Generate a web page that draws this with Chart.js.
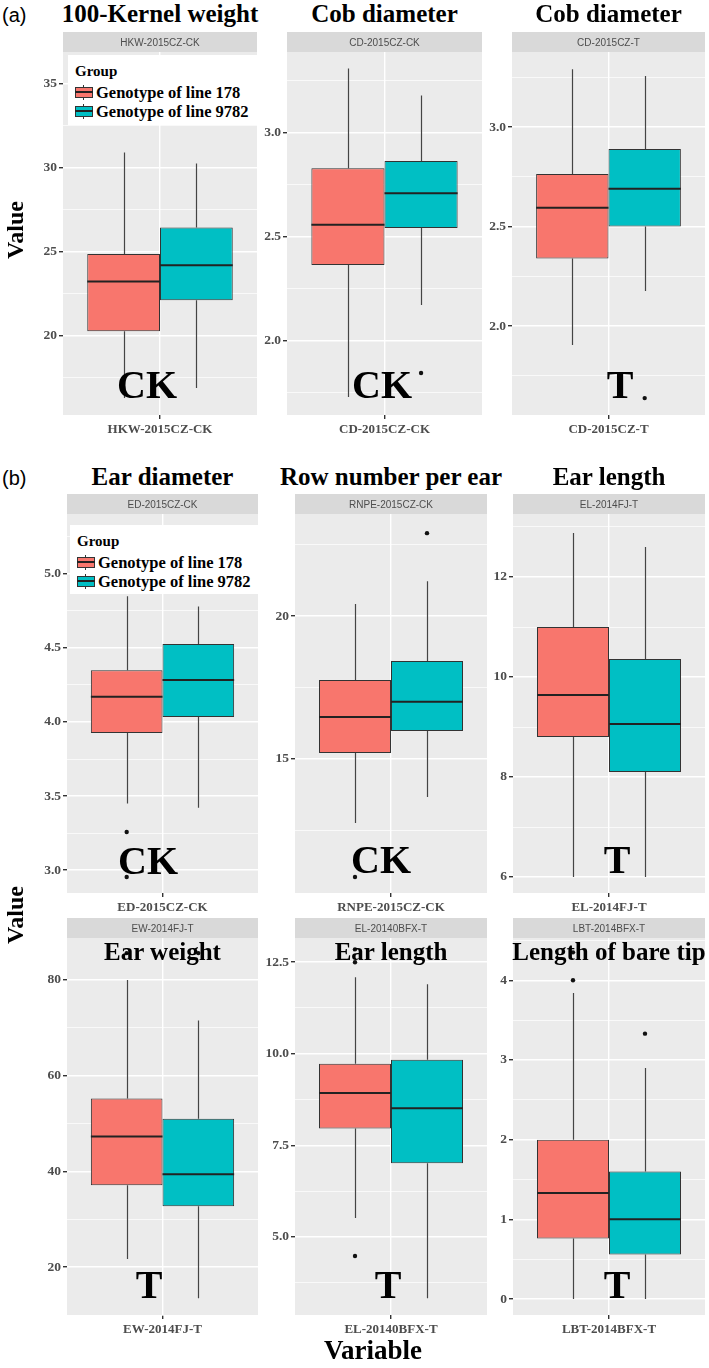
<!DOCTYPE html>
<html>
<head>
<meta charset="utf-8">
<script src="https://cdn.jsdelivr.net/npm/chart.js@4.4.1/dist/chart.umd.min.js"></script>
<style>
  body { margin: 0; background: #fff; }
  #fig { position: relative; width: 709px; height: 1368px; overflow: hidden; font-family: "Liberation Serif", serif; }
  .pan { position: absolute; }
  .txt { position: absolute; white-space: nowrap; line-height: 1; font-weight: bold; color: #000; text-align: center; }
  .lab { position: absolute; white-space: nowrap; font-family: "Liberation Sans", sans-serif; font-size: 20px; line-height: 1; }
  .legend { position: absolute; background: #fff; }
  .legend .ttl { position: absolute; left: 7px; top: 9px; font-size: 15px; font-weight: bold; line-height: 1; }
  .legend .row { position: absolute; left: 7px; height: 18px; font-size: 16.5px; font-weight: bold; line-height: 18px; white-space: nowrap; }
  .key { display: inline-block; position: relative; width: 18px; height: 15px; vertical-align: -2px; margin-right: 3px; }
  .key .wh { position: absolute; left: 8px; top: 0; width: 1px; height: 15px; background: #333; }
  .key .bx { position: absolute; left: 0; top: 2px; width: 16px; height: 9px; border: 1px solid #333; }
  .key .md { position: absolute; left: 0; top: 6px; width: 18px; height: 2px; background: #222; }
</style>
</head>
<body>
<div id="fig"></div>
<script>
const groups = ['Genotype of line 178', 'Genotype of line 9782'];
const groupColors = ['#F8766D', '#00BFC4'];

const variables = ['HKW-2015CZ-CK', 'CD-2015CZ-CK', 'CD-2015CZ-T',
                   'ED-2015CZ-CK', 'RNPE-2015CZ-CK', 'EL-2014FJ-T',
                   'EW-2014FJ-T', 'EL-20140BFX-T', 'LBT-2014BFX-T'];
const traits = ['100-Kernel weight', 'Cob diameter', 'Cob diameter',
                'Ear diameter', 'Row number per ear', 'Ear length',
                'Ear weight', 'Ear length', 'Length of bare tip'];
const treatments = ['CK', 'CK', 'T', 'CK', 'CK', 'T', 'T', 'T', 'T'];

// box plot stats (line 178)
const min178 = [16.25, 1.73, 1.905, 3.45, 12.76, 6.0, 21.7, 5.52, 0];
const q1_178 = [20.24, 2.365, 2.34, 3.926, 15.21, 8.8, 37.1, 7.96, 0.76];
const med178 = [23.2, 2.558, 2.595, 4.17, 16.47, 9.64, 47.3, 8.93, 1.33];
const q3_178 = [24.85, 2.83, 2.764, 4.35, 17.76, 11.0, 55.2, 9.73, 2.0];
const max178 = [30.9, 3.31, 3.29, 4.85, 20.42, 12.88, 80, 12.09, 3.84];
const out178 = [[], [], [], [3.257, 2.953], [10.87], [], [85.6], [4.48, 12.5, 12.85], [4.0, 4.35]];

// line 9782
const min9782 = [16.85, 2.173, 2.176, 3.42, 13.67, 6.0, 13.5, 3.33, 0];
const q1_9782 = [22.08, 2.543, 2.5, 4.034, 15.98, 8.1, 32.7, 7.01, 0.56];
const med9782 = [24.17, 2.71, 2.69, 4.284, 17.0, 9.06, 39.4, 8.51, 1.0];
const q3_9782 = [26.43, 2.865, 2.89, 4.527, 18.43, 10.36, 51.0, 9.84, 1.6];
const max9782 = [30.24, 3.18, 3.256, 4.78, 21.22, 12.6, 71.5, 11.9, 2.9];
const out9782 = [[], [1.846], [1.638], [], [22.9], [], [85.6], [], [3.33]];

// y axes
const yMin = [15.24, 1.644, 1.553, 2.845, 10.31, 5.68, 10.0, 2.87, -0.2];
const yMax = [36.9, 3.389, 3.377, 5.405, 23.57, 13.26, 88.75, 13.16, 4.53];
const majorStep = [5, 0.5, 0.5, 0.5, 5, 2, 20, 2.5, 1];
const tickDecimals = [0, 1, 1, 1, 0, 0, 0, 1, 0];

// panel placement (px)
const plotLeft = [63, 287, 512, 67, 295, 513, 67, 295, 513];
const plotRight = [257, 482, 705, 258, 487, 705, 258, 487, 705];
const stripTop = [32, 32, 32, 494, 494, 494, 918, 918, 918];
const plotBottom = [415, 415, 415, 893, 893, 893, 1315, 1315, 1315];
const titleBase = [22, 22, 22, 485, 485, 485, 960, 960, 960];
const treatX = [147, 382, 620, 148, 381, 617, 149, 388, 617];
const treatBase = [398, 398, 398, 874, 873, 873, 1298, 1298, 1298];

const AXIS_W = 45, STRIP_H = 20, XAXIS_H = 28;
const fig = document.getElementById('fig');
Chart.defaults.font.family = '"Liberation Serif", serif';

const boxPlugin = {
  id: 'boxpanel',
  beforeDraw(chart, args, opts) {
    const { ctx, chartArea: a } = chart;
    ctx.save();
    ctx.fillStyle = '#EBEBEB';
    ctx.fillRect(a.left, a.top, a.right - a.left, a.bottom - a.top);
    ctx.fillStyle = '#D9D9D9';
    ctx.fillRect(a.left, a.top - STRIP_H, a.right - a.left, STRIP_H);
    ctx.fillStyle = '#4D4D4D';
    ctx.font = '10px "Liberation Sans", sans-serif';
    ctx.textAlign = 'center';
    ctx.textBaseline = 'middle';
    ctx.fillText(opts.strip, (a.left + a.right) / 2, a.top - STRIP_H / 2 + 1);
    ctx.restore();
  },
  beforeDatasetsDraw(chart) {
    const { ctx } = chart;
    const y = chart.scales.y;
    ctx.save();
    ctx.strokeStyle = '#444';
    ctx.lineWidth = 1.2;
    chart.data.datasets.forEach((ds, i) => {
      const bar = chart.getDatasetMeta(i).data[0];
      const x = Math.round(bar.x) + 0.5;
      ctx.beginPath();
      ctx.moveTo(x, y.getPixelForValue(ds.data[0][1]));
      ctx.lineTo(x, y.getPixelForValue(ds.stats.max));
      ctx.moveTo(x, y.getPixelForValue(ds.data[0][0]));
      ctx.lineTo(x, y.getPixelForValue(ds.stats.min));
      ctx.stroke();
    });
    ctx.restore();
  },
  afterDatasetsDraw(chart) {
    const { ctx } = chart;
    const y = chart.scales.y;
    ctx.save();
    chart.data.datasets.forEach((ds, i) => {
      const bar = chart.getDatasetMeta(i).data[0];
      const ym = y.getPixelForValue(ds.stats.med);
      ctx.strokeStyle = '#222';
      ctx.lineWidth = 2;
      ctx.beginPath();
      ctx.moveTo(bar.x - bar.width / 2, ym);
      ctx.lineTo(bar.x + bar.width / 2, ym);
      ctx.stroke();
      ctx.fillStyle = '#111';
      ds.stats.out.forEach(v => {
        ctx.beginPath();
        ctx.arc(bar.x, y.getPixelForValue(v), 2.2, 0, Math.PI * 2);
        ctx.fill();
      });
    });
    ctx.restore();
  }
};

function isMajor(v, step) {
  return Math.abs(v / step - Math.round(v / step)) < 1e-6;
}

function addText(str, cls, left, top, css) {
  const d = document.createElement('div');
  d.className = cls;
  d.textContent = str;
  d.style.left = left + 'px';
  d.style.top = top + 'px';
  Object.assign(d.style, css || {});
  fig.appendChild(d);
  return d;
}

for (let p = 0; p < variables.length; p++) {
  const w = AXIS_W + plotRight[p] - plotLeft[p];
  const h = plotBottom[p] - stripTop[p] + XAXIS_H;
  const div = document.createElement('div');
  div.className = 'pan';
  div.style.left = (plotLeft[p] - AXIS_W) + 'px';
  div.style.top = stripTop[p] + 'px';
  const cv = document.createElement('canvas');
  cv.width = w; cv.height = h;
  div.appendChild(cv);
  fig.appendChild(div);

  const step = majorStep[p];
  new Chart(cv, {
    type: 'bar',
    data: {
      labels: [variables[p]],
      datasets: [
        { label: groups[0], data: [[q1_178[p], q3_178[p]]], backgroundColor: groupColors[0],
          stats: { min: min178[p], med: med178[p], max: max178[p], out: out178[p] } },
        { label: groups[1], data: [[q1_9782[p], q3_9782[p]]], backgroundColor: groupColors[1],
          stats: { min: min9782[p], med: med9782[p], max: max9782[p], out: out9782[p] } }
      ]
    },
    options: {
      responsive: false,
      animation: false,
      devicePixelRatio: 1,
      layout: { padding: { top: STRIP_H, left: 0, right: 0, bottom: 0 } },
      datasets: { bar: { categoryPercentage: 0.75, barPercentage: 1.0, borderColor: '#333', borderWidth: 1, borderSkipped: false } },
      plugins: { legend: { display: false }, tooltip: { enabled: false }, boxpanel: { strip: variables[p] } },
      scales: {
        x: {
          afterFit(s) { s.height = XAXIS_H; },
          border: { display: false },
          grid: { offset: false, color: '#FFFFFF', lineWidth: 1.4, tickColor: '#333', tickLength: 4 },
          ticks: { padding: 3, color: '#4D4D4D', font: { size: 13, weight: 'bold' } }
        },
        y: {
          min: yMin[p],
          max: yMax[p],
          afterFit(s) { s.width = AXIS_W; },
          border: { display: false },
          grid: {
            color: '#FFFFFF',
            lineWidth: c => isMajor(c.tick.value, step) ? 1.4 : 0.7,
            tickColor: c => isMajor(c.tick.value, step) ? '#333' : 'rgba(0,0,0,0)',
            tickLength: 4
          },
          ticks: {
            stepSize: step / 2,
            includeBounds: false,
            autoSkip: false,
            padding: 2,
            color: '#4D4D4D',
            font: { size: 13.5, weight: 'bold' },
            callback: v => isMajor(v, step) ? v.toFixed(tickDecimals[p]) : ''
          }
        }
      }
    },
    plugins: [boxPlugin]
  });
}

// legends (white boxes over the top of the first panel of each block)
function addLegend(left, top, w, h) {
  const lg = document.createElement('div');
  lg.className = 'legend';
  Object.assign(lg.style, { left: left + 'px', top: top + 'px', width: w + 'px', height: h + 'px' });
  const t = document.createElement('div');
  t.className = 'ttl';
  t.textContent = 'Group';
  lg.appendChild(t);
  groups.forEach((g, i) => {
    const r = document.createElement('div');
    r.className = 'row';
    r.style.top = (29 + i * 19) + 'px';
    r.innerHTML = '<span class="key"><span class="wh"></span><span class="bx" style="background:' +
      groupColors[i] + '"></span><span class="md"></span></span>';
    r.appendChild(document.createTextNode(g));
    lg.appendChild(r);
  });
  fig.appendChild(lg);
}
addLegend(68, 55, 189, 70);
addLegend(70, 525, 188, 69);

// panel titles and treatment labels
for (let p = 0; p < traits.length; p++) {
  const cx = (plotLeft[p] + plotRight[p]) / 2;
  addText(traits[p], 'txt', cx - 120, titleBase[p] - 21, { width: '240px', fontSize: '25px' });
  addText(treatments[p], 'txt', treatX[p] - 50, treatBase[p] - 33.5, { width: '100px', fontSize: '40px' });
}

addText('(a)', 'lab', 2, 5);
addText('(b)', 'lab', 2, 468);
addText('Value', 'txt', -35, 218, { width: '100px', fontSize: '24px', transform: 'rotate(-90deg)' });
addText('Value', 'txt', -35, 903, { width: '100px', fontSize: '24px', transform: 'rotate(-90deg)' });
addText('Variable', 'txt', 273, 1337, { width: '200px', fontSize: '27px' });
</script>
</body>
</html>
